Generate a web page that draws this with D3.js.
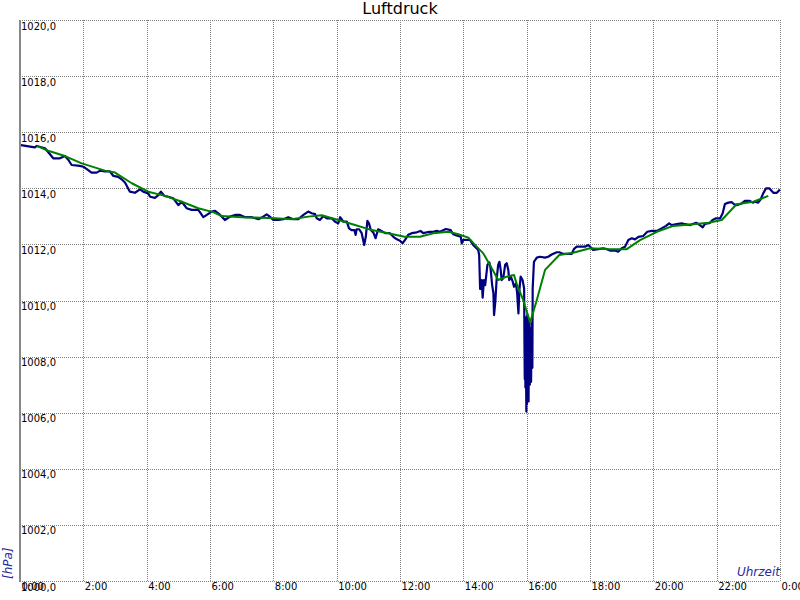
<!DOCTYPE html>
<html>
<head>
<meta charset="utf-8">
<script src="https://cdn.jsdelivr.net/npm/d3@7"></script>
<style>
  html, body { margin: 0; padding: 0; background: #fff; }
  svg { display: block; }
</style>
</head>
<body>
<script>
// ---- data (hours of day, pressure in hPa) ----
const title = "Luftdruck";
const yUnit = "[hPa]";
const xUnit = "Uhrzeit";

const xTickValues = [0, 2, 4, 6, 8, 10, 12, 14, 16, 18, 20, 22, 24];
const xTickLabels = ["0:00", "2:00", "4:00", "6:00", "8:00", "10:00", "12:00", "14:00", "16:00", "18:00", "20:00", "22:00", "0:00"];
const yTickValues = [1000, 1002, 1004, 1006, 1008, 1010, 1012, 1014, 1016, 1018, 1020];
const yTickLabels = ["1000,0", "1002,0", "1004,0", "1006,0", "1008,0", "1010,0", "1012,0", "1014,0", "1016,0", "1018,0", "1020,0"];

// measured pressure (blue)
const rawTimes = [
  0.03, 0.47, 0.53, 0.79, 1.05, 1.26, 1.42, 1.53, 1.63, 1.89, 2.00, 2.11, 2.26, 2.42, 2.53, 2.68, 2.84, 2.95,
  3.10, 3.21, 3.32, 3.47, 3.63, 3.79, 3.89, 4.05, 4.11, 4.26, 4.37, 4.45, 4.56, 4.68, 4.84, 5.00, 5.11, 5.26,
  5.42, 5.63, 5.79, 5.90, 6.05, 6.16, 6.32, 6.47, 6.63, 6.79, 6.95, 7.11, 7.32, 7.53, 7.68, 7.79, 7.89, 8.00,
  8.16, 8.32, 8.47, 8.63, 8.79, 8.95, 9.10, 9.21, 9.32, 9.37, 9.47, 9.58, 9.69, 9.84, 9.95, 10.05, 10.11, 10.21,
  10.32, 10.39, 10.47, 10.56, 10.60, 10.63, 10.71, 10.79, 10.87, 10.92, 10.97, 11.02, 11.08, 11.16, 11.23, 11.31,
  11.40, 11.53, 11.68, 11.79, 11.90, 12.00, 12.08, 12.16, 12.26, 12.37, 12.53, 12.65, 12.73, 12.93, 13.05, 13.16,
  13.26, 13.45, 13.60, 13.68, 13.81, 13.92, 13.95, 14.00, 14.21, 14.31, 14.40, 14.47, 14.50, 14.53, 14.58, 14.61,
  14.65, 14.69, 14.76, 14.82, 14.86, 14.91, 14.95, 14.97, 15.01, 15.05, 15.10, 15.14, 15.18, 15.21, 15.26, 15.32,
  15.37, 15.42, 15.45, 15.50, 15.56, 15.60, 15.66, 15.70, 15.74, 15.77, 15.81, 15.87, 15.92, 15.93, 15.94, 15.95,
  15.96, 15.97, 15.98, 15.99, 16.00, 16.01, 16.02, 16.03, 16.04, 16.05, 16.06, 16.07, 16.08, 16.09, 16.10, 16.11,
  16.12, 16.13, 16.14, 16.15, 16.16, 16.17, 16.18, 16.19, 16.23, 16.32, 16.42, 16.58, 16.68, 16.79, 16.95, 17.03,
  17.16, 17.42, 17.49, 17.58, 17.84, 17.95, 18.02, 18.10, 18.26, 18.42, 18.53, 18.63, 18.79, 18.89, 19.00, 19.11,
  19.21, 19.32, 19.42, 19.53, 19.68, 19.81, 19.95, 20.11, 20.26, 20.40, 20.50, 20.58, 20.74, 20.90, 21.00, 21.16,
  21.35, 21.47, 21.56, 21.63, 21.79, 21.87, 21.98, 22.11, 22.19, 22.26, 22.37, 22.47, 22.55, 22.63, 22.79, 22.89,
  23.05, 23.14, 23.21, 23.31, 23.39, 23.47, 23.56, 23.66, 23.79, 23.90, 24.00
];
const rawValues = [
  1015.54, 1015.46, 1015.51, 1015.43, 1015.07, 1015.07, 1015.15, 1015.01, 1014.83, 1014.80, 1014.77, 1014.68, 1014.56, 1014.56, 1014.63, 1014.60, 1014.60, 1014.44,
  1014.41, 1014.32, 1014.20, 1013.88, 1013.84, 1013.96, 1013.88, 1013.82, 1013.70, 1013.66, 1013.76, 1013.88, 1013.73, 1013.70, 1013.64, 1013.40, 1013.52, 1013.29,
  1013.23, 1013.23, 1012.97, 1013.05, 1013.17, 1013.20, 1013.05, 1012.87, 1012.99, 1013.05, 1013.05, 1012.97, 1012.97, 1012.90, 1012.99, 1013.07, 1012.99, 1012.87,
  1012.87, 1012.90, 1012.97, 1012.90, 1012.90, 1013.05, 1013.17, 1013.11, 1013.08, 1012.93, 1012.87, 1013.01, 1012.93, 1012.93, 1012.81, 1012.75, 1012.97, 1012.81,
  1012.81, 1012.57, 1012.51, 1012.51, 1012.34, 1012.54, 1012.54, 1012.40, 1011.98, 1012.27, 1012.84, 1012.75, 1012.51, 1012.42, 1012.22, 1012.54,
  1012.49, 1012.40, 1012.40, 1012.27, 1012.18, 1012.13, 1012.04, 1012.16, 1012.34, 1012.40, 1012.43, 1012.48, 1012.40, 1012.45, 1012.45, 1012.48,
  1012.45, 1012.55, 1012.51, 1012.36, 1012.31, 1012.27, 1012.04, 1012.16, 1012.16, 1011.98, 1011.88, 1011.80, 1011.62, 1010.41, 1010.73, 1010.10,
  1010.73, 1010.55, 1011.27, 1011.36, 1011.15, 1010.55, 1010.26, 1009.48, 1009.96, 1010.73, 1011.27, 1011.38, 1011.09, 1010.73, 1010.79, 1011.27,
  1011.33, 1011.09, 1010.73, 1010.85, 1010.67, 1010.49, 1010.61, 1010.26, 1009.54, 1010.37, 1010.85, 1010.73, 1010.43, 1008.60, 1007.20, 1009.30,
  1006.90, 1009.40, 1007.40, 1006.04, 1009.10, 1006.30, 1009.50, 1007.00, 1006.50, 1009.20, 1006.40, 1008.80, 1007.20, 1009.30, 1007.00, 1008.90,
  1007.30, 1009.00, 1007.10, 1008.80, 1007.60, 1009.20, 1007.60, 1010.43, 1011.38, 1011.53, 1011.56, 1011.53, 1011.56, 1011.64, 1011.72, 1011.72,
  1011.66, 1011.66, 1011.83, 1011.92, 1011.92, 1011.98, 1011.90, 1011.80, 1011.83, 1011.86, 1011.83, 1011.78, 1011.78, 1011.74, 1011.86, 1011.92,
  1012.16, 1012.22, 1012.18, 1012.27, 1012.30, 1012.45, 1012.48, 1012.48, 1012.57, 1012.66, 1012.75, 1012.69, 1012.72, 1012.75, 1012.72, 1012.69,
  1012.77, 1012.69, 1012.61, 1012.73, 1012.77, 1012.87, 1012.93, 1012.93, 1013.11, 1013.44, 1013.49, 1013.51, 1013.43, 1013.40, 1013.46, 1013.55,
  1013.55, 1013.49, 1013.52, 1013.49, 1013.61, 1013.82, 1014.00, 1014.00, 1013.84, 1013.84, 1013.96
];

// smoothed pressure (green)
const smoothTimes = [
  0.53, 0.89, 1.42, 1.95, 2.68, 3.00, 3.53, 4.05, 4.58, 5.11, 5.63, 6.10, 6.37, 7.00, 8.05, 8.58, 9.10, 9.53,
  10.05, 10.58, 11.11, 11.63, 12.14, 12.63, 13.05, 13.53, 13.84, 14.16, 14.42, 14.63, 14.84, 15.10, 15.37, 15.60,
  15.68, 15.89, 16.11, 16.32, 16.58, 17.03, 17.47, 18.00, 18.63, 19.16, 19.58, 20.11, 20.63, 21.26, 21.74, 22.16,
  22.63, 23.16, 23.63
];
const smoothValues = [
  1015.51, 1015.34, 1015.15, 1014.89, 1014.63, 1014.56, 1014.18, 1013.88, 1013.73, 1013.52, 1013.29, 1013.15, 1013.01, 1012.97, 1012.93, 1012.90, 1012.99, 1013.04,
  1012.87, 1012.69, 1012.51, 1012.40, 1012.27, 1012.27, 1012.40, 1012.45, 1012.36, 1012.24, 1011.92, 1011.68, 1011.27, 1010.73, 1010.85, 1010.91,
  1010.61, 1010.02, 1009.22, 1010.02, 1011.09, 1011.62, 1011.70, 1011.86, 1011.83, 1011.83, 1012.15, 1012.45, 1012.66, 1012.72, 1012.77, 1012.87,
  1013.43, 1013.52, 1013.73
];

// ---- drawing ----
const W = 800, H = 600;
const plotL = 20, plotR = 780, plotT = 20, plotB = 581;
const FONT = "'DejaVu Sans', Verdana, sans-serif";

const x = d3.scaleLinear().domain([0, 24]).range([plotL, plotR]);
const y = d3.scaleLinear().domain([1000, 1020]).range([plotB, plotT]);

const svg = d3.select("body").append("svg")
  .attr("width", W).attr("height", H)
  .style("background", "#fff");

// grid via axes
const gridX = d3.axisBottom(x).tickValues(xTickValues).tickSize(-(plotB - plotT)).tickFormat("");
const gridY = d3.axisLeft(y).tickValues(yTickValues).tickSize(-(plotR - plotL)).tickFormat("");

svg.append("g").attr("transform", `translate(0,${plotB})`).call(gridX)
  .call(g => g.select(".domain").remove())
  .selectAll("line").attr("stroke", "#808080").attr("stroke-dasharray", "1,1")
  .attr("shape-rendering", "crispEdges");
svg.append("g").attr("transform", `translate(${plotL},0)`).call(gridY)
  .call(g => g.select(".domain").remove())
  .selectAll("line").attr("stroke", "#808080").attr("stroke-dasharray", "1,1")
  .attr("shape-rendering", "crispEdges");

// lines
const rawData = rawTimes.map((t, i) => [t, rawValues[i]]);
const smoothData = smoothTimes.map((t, i) => [t, smoothValues[i]]);
const line = d3.line().x(d => x(d[0])).y(d => y(d[1]));

svg.append("path").datum(rawData)
  .attr("d", line).attr("fill", "none")
  .attr("stroke", "#000080").attr("stroke-width", 2.2).attr("stroke-linejoin", "round");
svg.append("path").datum(smoothData)
  .attr("d", line).attr("fill", "none")
  .attr("stroke", "#008000").attr("stroke-width", 2).attr("stroke-linejoin", "round");

// left axis line
svg.append("line")
  .attr("x1", plotL).attr("x2", plotL).attr("y1", plotT).attr("y2", plotB + 1)
  .attr("stroke", "#888").attr("stroke-width", 2);

// y tick labels (inside plot, below gridline)
svg.append("g").selectAll("text").data(yTickValues).join("text")
  .attr("x", plotL + 1).attr("y", d => y(d) + 9.5)
  .attr("font-family", FONT).attr("font-size", 10).attr("fill", "#000")
  .text((d, i) => yTickLabels[i]);

// x tick labels
svg.append("g").selectAll("text").data(xTickValues).join("text")
  .attr("x", d => x(d) + 1.5).attr("y", plotB + 8.5)
  .attr("font-family", FONT).attr("font-size", 10).attr("fill", "#000")
  .text((d, i) => xTickLabels[i]);

// title
svg.append("text").attr("x", 400).attr("y", 14)
  .attr("text-anchor", "middle")
  .attr("font-family", FONT).attr("font-size", 16).attr("fill", "#000")
  .text(title);

// unit labels
svg.append("text")
  .attr("transform", `translate(12,579) rotate(-90)`)
  .attr("font-family", FONT).attr("font-size", 12).attr("font-style", "italic")
  .attr("fill", "#2a2aa0")
  .text(yUnit);
svg.append("text").attr("x", 780).attr("y", 576)
  .attr("text-anchor", "end")
  .attr("font-family", FONT).attr("font-size", 12).attr("font-style", "italic")
  .attr("fill", "#2a2aa0")
  .text(xUnit);
</script>
</body>
</html>
